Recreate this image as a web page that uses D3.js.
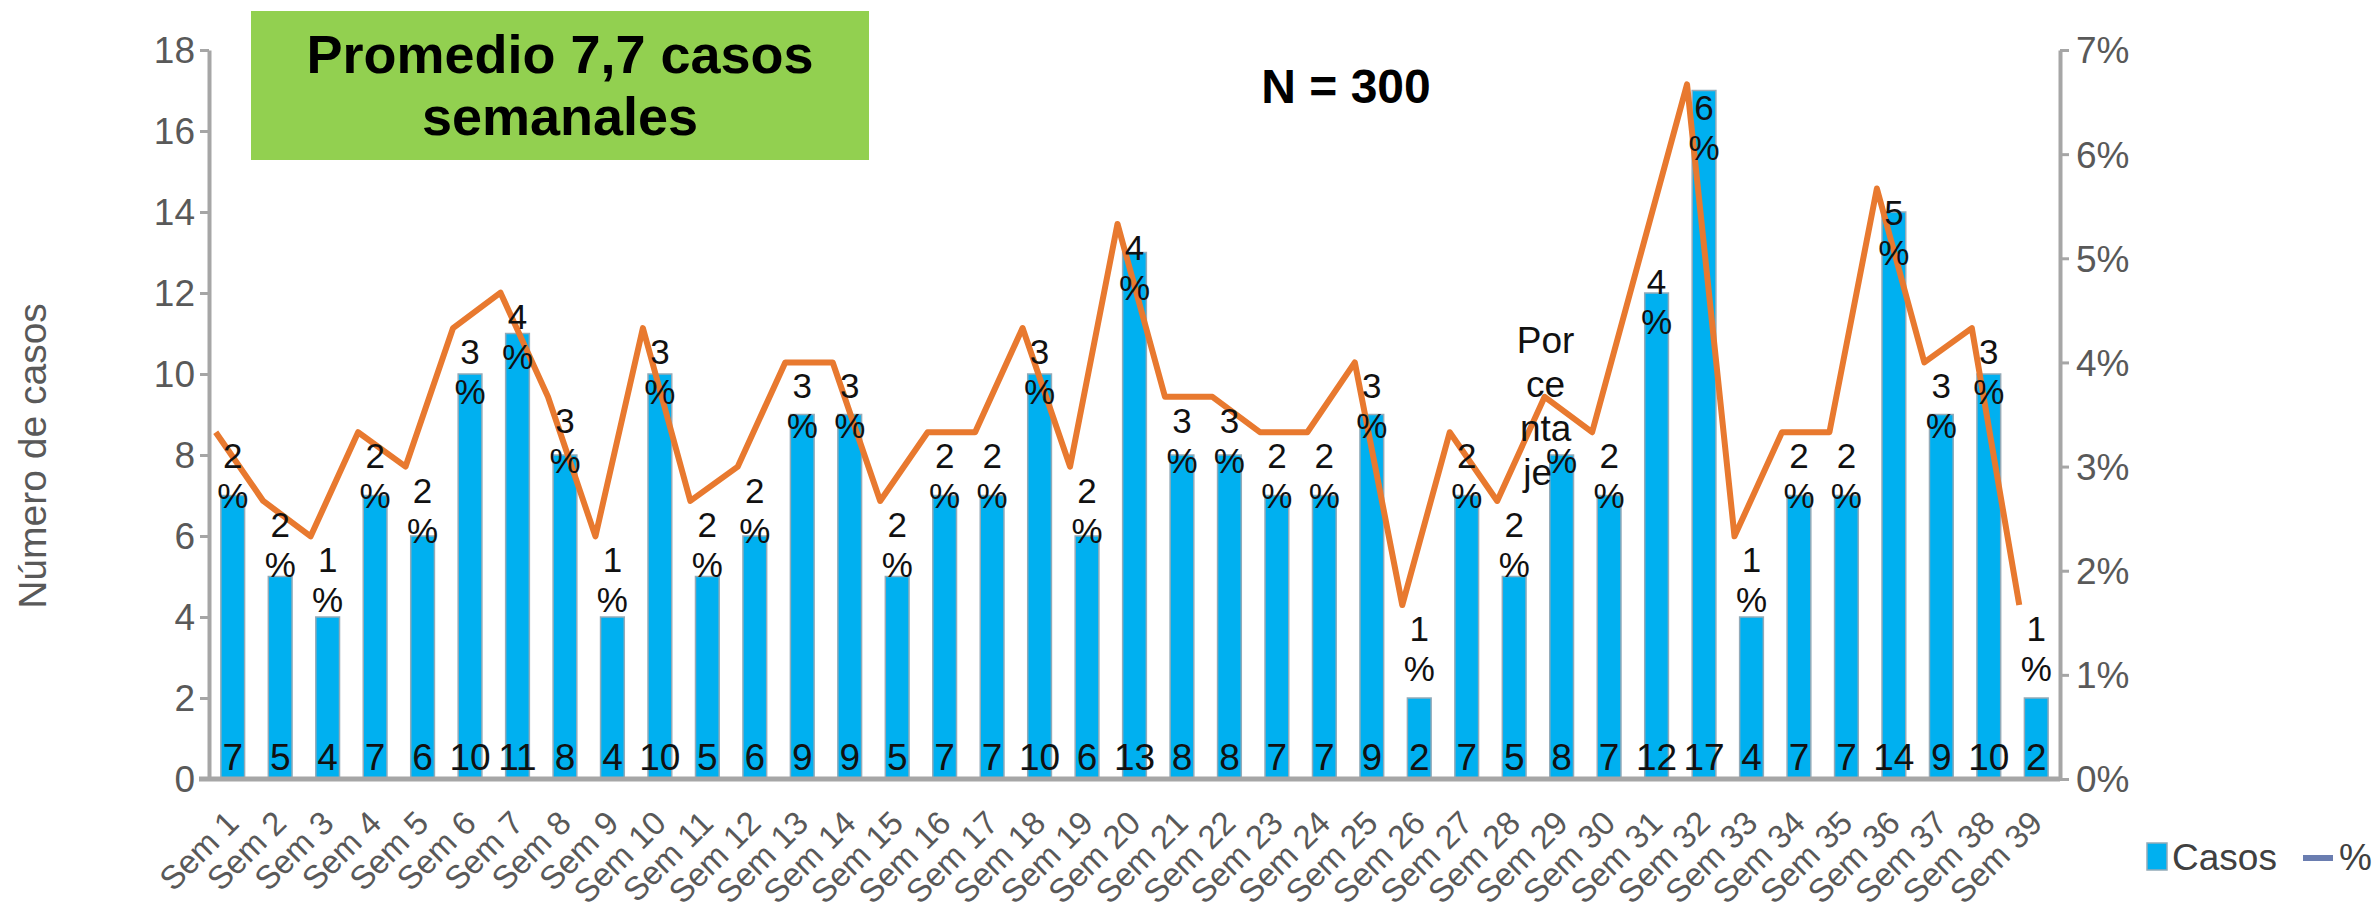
<!DOCTYPE html>
<meta charset="utf-8">
<title>Casos semanales</title>
<style>
  html, body { margin: 0; padding: 0; background: #fff; }
  svg { display: block; font-family: "Liberation Sans", Arial, sans-serif; }
  .axis path, .axis line { stroke: #a6a6a6; }
  .axis text { fill: #595959; }
</style>
<body>
<script src="https://cdn.jsdelivr.net/npm/d3@7"></script>
<script>

// data
var semanas = ["Sem 1","Sem 2","Sem 3","Sem 4","Sem 5","Sem 6","Sem 7","Sem 8","Sem 9","Sem 10",
  "Sem 11","Sem 12","Sem 13","Sem 14","Sem 15","Sem 16","Sem 17","Sem 18","Sem 19","Sem 20",
  "Sem 21","Sem 22","Sem 23","Sem 24","Sem 25","Sem 26","Sem 27","Sem 28","Sem 29","Sem 30",
  "Sem 31","Sem 32","Sem 33","Sem 34","Sem 35","Sem 36","Sem 37","Sem 38","Sem 39"];
var casos = [7,5,4,7,6,10,11,8,4,10,5,6,9,9,5,7,7,10,6,13,8,8,7,7,9,2,7,5,8,7,12,17,4,7,7,14,9,10,2];
// orange line, in % on the right axis
var porcentaje = [3.33,2.67,2.33,3.33,3.0,4.33,4.67,3.67,2.33,4.33,2.67,3.0,4.0,4.0,2.67,3.33,3.33,4.33,3.0,5.33,
  3.67,3.67,3.33,3.33,4.0,1.67,3.33,2.67,3.67,3.33,5.0,6.67,2.33,3.33,3.33,5.67,4.0,4.33,1.67];
// data labels shown on the line (rounded %); Sem 29 shows the series name instead
var etiquetas = [2,2,1,2,2,3,4,3,1,3,2,2,3,3,2,2,2,3,2,4,3,3,2,2,3,1,2,2,"",2,4,6,1,2,2,5,3,3,1];
var ticksCasos = [0,2,4,6,8,10,12,14,16,18];
var ticksPct = [0,1,2,3,4,5,6,7];
var nombreSerie = ["Por","ce","nta","je"];   // series-name label on Sem 29
var semanaNombre = "Sem 29";

var W = 2374, H = 913;
var mLeft = 209, mRight = 2060, mTop = 50, mBottom = 779;

var svg = d3.select("body").append("svg")
    .attr("width", W)
    .attr("height", H);

// scales
var x = d3.scaleBand().domain(semanas).range([mLeft, mRight]).paddingInner(0.5).paddingOuter(0.25);
var y = d3.scaleLinear().domain([0, 18]).range([mBottom, mTop]);
var y2 = d3.scaleLinear().domain([0, 7]).range([mBottom, mTop]);
var shift = -17;  // line points sit a bit left of the bar centres
var xl = d3.scalePoint().domain(semanas)
    .range([x(semanas[0]) + x.bandwidth() / 2 + shift, x(semanas[38]) + x.bandwidth() / 2 + shift]);
var cx = function(s) { return x(s) + x.bandwidth() / 2; };

// green box + titles
svg.append("rect")
    .attr("x", 251).attr("y", 11).attr("width", 618).attr("height", 149)
    .attr("fill", "#92d050");
var titulo = svg.append("text")
    .attr("text-anchor", "middle")
    .style("font-weight", "bold").style("font-size", "54px").attr("fill", "#000");
titulo.append("tspan").attr("x", 560).attr("y", 73).text("Promedio 7,7 casos");
titulo.append("tspan").attr("x", 560).attr("y", 135).text("semanales");

svg.append("text")
    .attr("x", 1346).attr("y", 103)
    .attr("text-anchor", "middle")
    .style("font-weight", "bold").style("font-size", "48px")
    .text("N = 300");

// bars
svg.append("g").selectAll("rect")
    .data(casos)
  .enter().append("rect")
    .attr("x", function(d, i) { return x(semanas[i]); })
    .attr("y", function(d) { return y(d); })
    .attr("width", x.bandwidth())
    .attr("height", function(d) { return y(0) - y(d); })
    .attr("fill", "#00b0f0")
    .attr("stroke", "#93aab8")
    .attr("stroke-width", 1.5);

// left axis
var ejeY = svg.append("g")
    .attr("class", "axis")
    .attr("transform", "translate(" + mLeft + ",0)")
    .call(d3.axisLeft(y).tickValues(ticksCasos).tickSize(9).tickSizeOuter(0).tickPadding(5));
ejeY.select(".domain").attr("stroke-width", 4);
ejeY.selectAll(".tick line").attr("stroke-width", 3);
ejeY.selectAll("text").style("font-size", "37px").attr("dy", "0.35em");

// right axis
var ejeY2 = svg.append("g")
    .attr("class", "axis")
    .attr("transform", "translate(" + mRight + ",0)")
    .call(d3.axisRight(y2).tickValues(ticksPct).tickSize(9).tickSizeOuter(0).tickPadding(7)
      .tickFormat(function(d) { return d + "%"; }));
ejeY2.select(".domain").attr("stroke-width", 4);
ejeY2.selectAll(".tick line").attr("stroke-width", 3);
ejeY2.selectAll("text").style("font-size", "37px").attr("dy", "0.35em");

// x axis
var ejeX = svg.append("g")
    .attr("class", "axis")
    .attr("transform", "translate(0," + mBottom + ")")
    .call(d3.axisBottom(x).tickSize(0).tickSizeOuter(0));
ejeX.select(".domain").attr("d", "M" + (mLeft - 10) + ",0H" + mRight).attr("stroke-width", 5);
ejeX.selectAll("text")
    .attr("x", 0).attr("y", 0).attr("dy", 0)
    .attr("transform", "translate(8,46) rotate(-45)")
    .style("text-anchor", "end")
    .style("font-size", "33px")
    .attr("fill", "#6b6b6b");

// y title
svg.append("text")
    .attr("transform", "translate(46,456) rotate(-90)")
    .attr("text-anchor", "middle")
    .style("font-size", "39px")
    .attr("fill", "#595959")
    .text("Número de casos");

// values inside the bars
svg.append("g").selectAll("text")
    .data(casos)
  .enter().append("text")
    .attr("x", function(d, i) { return cx(semanas[i]); })
    .attr("y", mBottom - 9)
    .attr("text-anchor", "middle")
    .style("font-size", "37px")
    .attr("fill", "#111")
    .text(function(d) { return d; });

// orange line
var linea = d3.line()
    .x(function(d, i) { return xl(semanas[i]); })
    .y(function(d) { return y2(d); });
svg.append("path")
    .datum(porcentaje)
    .attr("fill", "none")
    .attr("stroke", "#e8792f")
    .attr("stroke-width", 6)
    .attr("stroke-linejoin", "round")
    .attr("d", linea);

// line labels: value on one line, % below
svg.append("g").selectAll("text")
    .data(etiquetas)
  .enter().append("text")
    .attr("text-anchor", "middle")
    .style("font-size", "35px")
    .attr("fill", "#111")
    .each(function(d, i) {
      var t = d3.select(this);
      if (d !== "") {
        t.append("tspan")
            .attr("x", cx(semanas[i]))
            .attr("y", y2(porcentaje[i]) + 36)
            .text(d);
      }
      t.append("tspan")
          .attr("x", cx(semanas[i]))
          .attr("y", y2(porcentaje[i]) + 76)
          .text("%");
    });

// series name label on Sem 29
var iN = semanas.indexOf(semanaNombre);
var nom = svg.append("text")
    .attr("text-anchor", "middle")
    .style("font-size", "37px")
    .attr("fill", "#111");
nom.selectAll("tspan")
    .data(nombreSerie)
  .enter().append("tspan")
    .attr("x", function(d, j) { return cx(semanaNombre) - (j === nombreSerie.length - 1 ? 24 : 16); })
    .attr("y", function(d, j) { return y2(porcentaje[iN]) - 44 + j * 44; })
    .text(function(d) { return d; });

// legend
var leg = svg.append("g");
leg.append("rect")
    .attr("x", 2147).attr("y", 843).attr("width", 20).attr("height", 27)
    .attr("fill", "#00b0f0").attr("stroke", "#93aab8").attr("stroke-width", 1.5);
leg.append("text")
    .attr("x", 2172).attr("y", 870)
    .style("font-size", "37px").attr("fill", "#404040")
    .text("Casos");
leg.append("line")
    .attr("x1", 2303).attr("x2", 2333).attr("y1", 858).attr("y2", 858)
    .attr("stroke", "#6a7db0").attr("stroke-width", 6);
leg.append("text")
    .attr("x", 2339).attr("y", 870)
    .style("font-size", "37px").attr("fill", "#404040")
    .text("%");

</script>
</body>
